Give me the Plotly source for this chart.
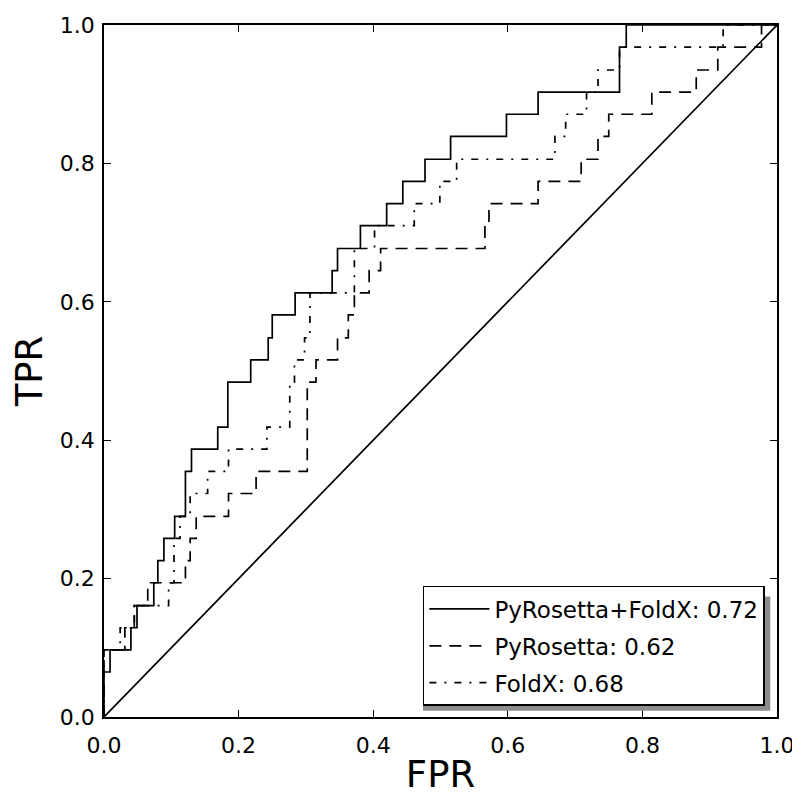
import plotly.graph_objects as go

# ROC corner points (step curves, drawn with line_shape="hv")
combo_fpr = [0, 0, 0.009, 0.040, 0.049, 0.074, 0.080, 0.089, 0.105, 0.121, 0.130, 0.169, 0.184, 0.218,
             0.244, 0.250, 0.284, 0.339, 0.347, 0.381, 0.420, 0.444, 0.477, 0.515, 0.598, 0.645, 0.766,
             0.776, 1.0]
combo_tpr = [0, 0.065, 0.097, 0.129, 0.161, 0.194, 0.226, 0.258, 0.290, 0.355, 0.387, 0.419, 0.484, 0.516,
             0.548, 0.581, 0.613, 0.645, 0.677, 0.710, 0.742, 0.774, 0.806, 0.839, 0.871, 0.903, 0.968,
             1.0, 1.0]

rosetta_fpr = [0, 0, 0.031, 0.045, 0.065, 0.121, 0.128, 0.137, 0.185, 0.226, 0.302, 0.315, 0.347, 0.363,
               0.372, 0.394, 0.411, 0.566, 0.572, 0.645, 0.709, 0.734, 0.750, 0.814, 0.880, 0.912, 0.977, 1.0]
rosetta_tpr = [0, 0.097, 0.129, 0.161, 0.194, 0.226, 0.258, 0.290, 0.323, 0.355, 0.484, 0.516, 0.548, 0.581,
               0.613, 0.645, 0.677, 0.710, 0.742, 0.774, 0.806, 0.839, 0.871, 0.903, 0.935, 0.968, 1.0, 1.0]

foldx_fpr = [0, 0, 0.024, 0.045, 0.096, 0.104, 0.113, 0.128, 0.154, 0.185, 0.242, 0.276, 0.283, 0.298,
             0.306, 0.372, 0.402, 0.461, 0.499, 0.524, 0.670, 0.686, 0.717, 0.734, 0.766, 0.920, 1.0]
foldx_tpr = [0, 0.097, 0.129, 0.161, 0.194, 0.258, 0.290, 0.323, 0.355, 0.387, 0.419, 0.484, 0.516, 0.548,
             0.613, 0.677, 0.710, 0.742, 0.774, 0.806, 0.839, 0.871, 0.903, 0.935, 0.968, 1.0, 1.0]

chance = [0, 1]

labels = ["PyRosetta+FoldX: 0.72", "PyRosetta: 0.62", "FoldX: 0.68"]
ticks = [0.0, 0.2, 0.4, 0.6, 0.8, 1.0]
tick_text = ["0.0", "0.2", "0.4", "0.6", "0.8", "1.0"]

fig = go.Figure()
fig.add_trace(go.Scatter(x=combo_fpr, y=combo_tpr, mode="lines", line_shape="hv", name=labels[0],
                         legendgroup="a", line=dict(color="black", width=1.7)))
fig.add_trace(go.Scatter(x=rosetta_fpr, y=rosetta_tpr, mode="lines", line_shape="hv", name=labels[1],
                         legendgroup="b", line=dict(color="black", width=1.7, dash="12px,8px")))
fig.add_trace(go.Scatter(x=foldx_fpr, y=foldx_tpr, mode="lines", line_shape="hv", name=labels[2],
                         legendgroup="c", line=dict(color="black", width=1.7, dash="7px,8px,2px,8px")))
fig.add_trace(go.Scatter(x=chance, y=chance, mode="lines", showlegend=False,
                         line=dict(color="black", width=1.7)))

axis_style = dict(range=[0, 1], showgrid=False, zeroline=False, showline=True, linecolor="black",
                  linewidth=1.5, mirror="ticks", ticks="inside", ticklen=7, tickcolor="black",
                  tickvals=ticks, ticktext=tick_text,
                  tickfont=dict(size=22, color="black"), automargin=False)

fig.update_xaxes(title=dict(text="FPR", font=dict(size=37, color="black"), standoff=8),
                 ticklabelstandoff=8, **axis_style)
fig.update_yaxes(title=dict(text="TPR", font=dict(size=37, color="black"), standoff=14),
                 ticklabelstandoff=3, **axis_style)

# legend drop shadow
fig.add_shape(type="rect", xref="paper", yref="paper", x0=0.474, x1=0.990, y0=0.009, y1=0.174,
              fillcolor="#8c8c8c", line=dict(width=0), layer="above")

# page adds an 8px body margin, so the figure is 8px smaller than the window
fig.update_layout(
    width=792, height=788,
    margin=dict(l=96, r=23, t=17, b=79),
    plot_bgcolor="white", paper_bgcolor="white",
    font=dict(family="DejaVu Sans", color="black"),
    legend=dict(x=0.982, y=0.016, xanchor="right", yanchor="bottom", bgcolor="white",
                bordercolor="black", borderwidth=1.5, font=dict(size=23), itemwidth=60,
                tracegroupgap=4),
)

fig.write_html("out.html")
